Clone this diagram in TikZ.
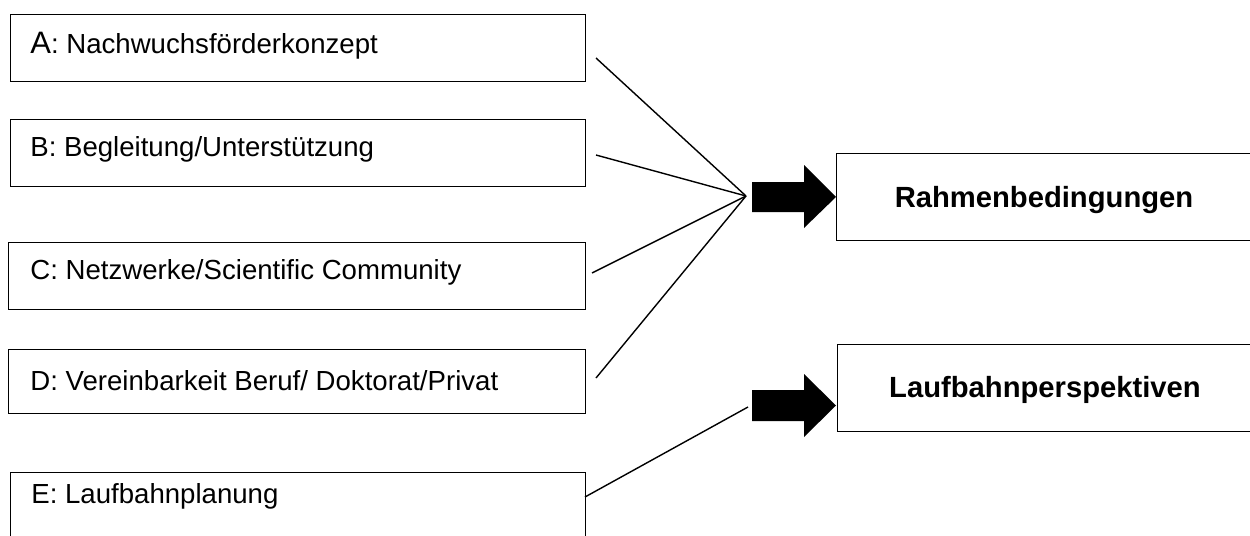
\documentclass[tikz,border=0pt]{standalone}
\usepackage{fontspec}
\setmainfont{Liberation Sans}
\begin{document}
\begin{tikzpicture}[x=0.5pt,y=-0.5pt,
  box/.style={draw=black,line width=0.7pt,rectangle,inner sep=0pt,anchor=north west},
  lbl/.style={anchor=base west,inner sep=0pt,font=\fontsize{13.8}{16}\selectfont},
  ttl/.style={anchor=base,inner sep=0pt,font=\fontsize{14.6}{17}\selectfont\bfseries},
  conn/.style={line width=0.7pt}]
\useasboundingbox (0,0) rectangle (1250,536);
% left boxes
\node[box,minimum width=287.5pt,minimum height=33.5pt] (A) at (10,14) {};
\node[box,minimum width=287.5pt,minimum height=33.5pt] (B) at (10,119) {};
\node[box,minimum width=288.5pt,minimum height=33.5pt] (C) at (8,242) {};
\node[box,minimum width=288.5pt,minimum height=32pt] (D) at (8,349) {};
\node[box,minimum width=287.5pt,minimum height=44pt] (E) at (10,472) {};
\node[lbl] (tA) at (30,53) {{\fontsize{15.5}{16}\selectfont A}: Nachwuchsförderkonzept};
\node[lbl] (tB) at (30,156) {B: Begleitung/Unterstützung};
\node[lbl] (tC) at (30,279) {C: Netzwerke/Scientific Community};
\node[lbl] (tD) at (30,390) {D: Vereinbarkeit Beruf/ Doktorat/Privat};
\node[lbl] (tE) at (31,503) {E: Laufbahnplanung};
% right boxes
\node[box,minimum width=212pt,minimum height=43.5pt] (R) at (836,153) {};
\node[box,minimum width=211.5pt,minimum height=43.5pt] (L) at (837,344) {};
\node[ttl] (tR) at (1044,207) {Rahmenbedingungen};
\node[ttl] (tL) at (1045,397) {Laufbahnperspektiven};
% block arrows (start points as named coordinates)
\coordinate (RA) at (752,197);
\coordinate (LA) at (752,405.5);
\fill[black] (RA) ++(0,-15) -- ++(52,0) -- ++(0,-17) -- ++(32,32) -- ++(-32,31) -- ++(0,-16) -- ++(-52,0) -- cycle;
\fill[black] (LA) ++(0,-15.5) -- ++(52,0) -- ++(0,-16) -- ++(32,31.5) -- ++(-32,31.5) -- ++(0,-16) -- ++(-52,0) -- cycle;
% connector points
\coordinate (J1) at (746,196);
\coordinate (J2) at (748,407);
\coordinate (a1) at (596,58);
\coordinate (b1) at (596,155);
\coordinate (c1) at (592,273);
\coordinate (d1) at (596,378);
\coordinate (e1) at (585,497);
\draw[conn] (a1) -- (J1);
\draw[conn] (b1) -- (J1);
\draw[conn] (c1) -- (J1);
\draw[conn] (d1) -- (J1);
\draw[conn] (e1) -- (J2);
\end{tikzpicture}
\end{document}
